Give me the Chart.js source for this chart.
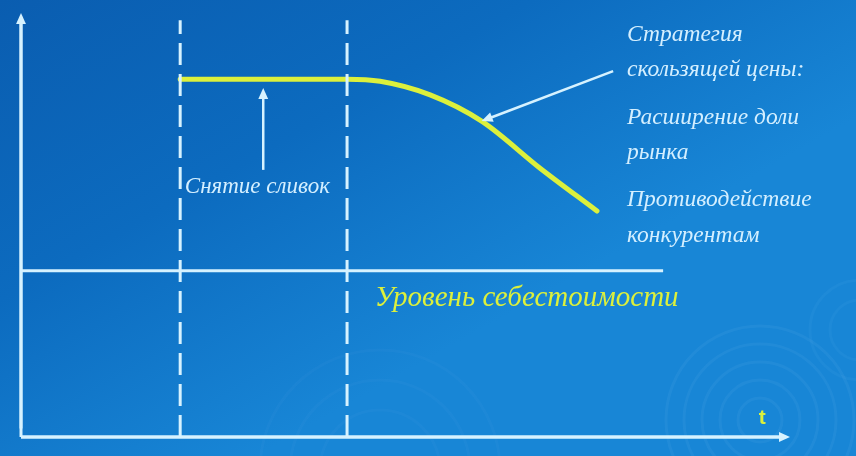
<!DOCTYPE html>
<html>
<head>
<meta charset="utf-8">
<script src="https://cdn.jsdelivr.net/npm/chart.js@4.4.1/dist/chart.umd.min.js"></script>
<style>
html,body{margin:0;padding:0;background:#0b63b4;overflow:hidden;}
#wrap{width:856px;height:456px;}
</style>
</head>
<body>
<div id="wrap"><canvas id="c" width="856" height="456"></canvas></div>
<script>
// ---- data (t = time, price in relative units) ----
const curveT      = [20.7, 30.0, 42.4, 46.7, 53.2, 59.9, 67.5, 74.9];
const curvePrice  = [84.4, 84.4, 84.4, 83.9, 80.7, 74.5, 63.4, 53.3];
const costLevel   = 39.2;
const costEndT    = 83.5;
const phaseBounds = [20.7, 42.4];
const phaseTop    = 98.3;
const axisMaxT    = 100;
const axisMaxP    = 100;

const skimLabel     = 'Снятие сливок';
const strategyLines = ['Стратегия', 'скользящей цены:', 'Расширение доли', 'рынка', 'Противодействие', 'конкурентам'];
const costLabel     = 'Уровень себестоимости';
const timeLabel     = 't';

// ---- annotation anchors in data units ----
const skimPos      = [21.3, 59.0];
const skimArrow    = [[31.5, 63.0], [31.5, 82.3]];
const strategyArrow= [[77.0, 86.3], [59.9, 74.5]];
const strategyT    = 78.8;
const strategyP    = [94.8, 86.6, 75.2, 67.0, 55.9, 47.4];
const costLabelPos = [46.0, 32.8];
const timeLabelPos = [96.4, 4.5];

const AX = '#d6f2ff';
const TXT = '#d4efff';
const YEL = '#dcf03c';

const pts = (xs, ys) => xs.map((x, i) => ({x, y: ys[i]}));

const bgPlugin = {
  id: 'bg',
  beforeDraw(chart) {
    const {ctx, width, height} = chart;
    ctx.save();
    const g = ctx.createLinearGradient(0, 0, width * 0.3, height);
    g.addColorStop(0, '#0a5db0');
    g.addColorStop(0.5, '#0c6bbf');
    g.addColorStop(1, '#1886d6');
    ctx.fillStyle = g;
    ctx.fillRect(0, 0, width, height);
    // faint ripples
    const rip = (cx, cy, rs, a) => {
      rs.forEach(r => {
        ctx.beginPath();
        ctx.arc(cx, cy, r, 0, Math.PI * 2);
        ctx.strokeStyle = 'rgba(150,210,255,' + a + ')';
        ctx.lineWidth = 3;
        ctx.stroke();
      });
    };
    rip(760, 420, [22, 40, 58, 76, 94], 0.07);
    rip(380, 470, [60, 90, 120], 0.04);
    rip(860, 330, [30, 50], 0.05);
    ctx.restore();
  }
};

function arrow(ctx, x1, y1, x2, y2, color, w, head) {
  const a = Math.atan2(y2 - y1, x2 - x1);
  ctx.save();
  ctx.strokeStyle = color; ctx.fillStyle = color; ctx.lineWidth = w;
  ctx.beginPath();
  ctx.moveTo(x1, y1);
  ctx.lineTo(x2 - Math.cos(a) * head * 0.8, y2 - Math.sin(a) * head * 0.8);
  ctx.stroke();
  ctx.beginPath();
  ctx.moveTo(x2, y2);
  ctx.lineTo(x2 - head * Math.cos(a) + head * 0.45 * Math.sin(a), y2 - head * Math.sin(a) - head * 0.45 * Math.cos(a));
  ctx.lineTo(x2 - head * Math.cos(a) - head * 0.45 * Math.sin(a), y2 - head * Math.sin(a) + head * 0.45 * Math.cos(a));
  ctx.closePath();
  ctx.fill();
  ctx.restore();
}

const annPlugin = {
  id: 'ann',
  afterDatasetsDraw(chart) {
    const {ctx, scales: {x, y}} = chart;
    const px = v => x.getPixelForValue(v), py = v => y.getPixelForValue(v);
    ctx.save();
    // axis arrowheads
    arrow(ctx, px(0), py(2), px(0), py(axisMaxP), AX, 3, 11);
    arrow(ctx, px(0), py(0), px(axisMaxT), py(0), AX, 3, 11);
    // annotation arrows
    arrow(ctx, px(skimArrow[0][0]), py(skimArrow[0][1]), px(skimArrow[1][0]), py(skimArrow[1][1]), AX, 2.5, 11);
    arrow(ctx, px(strategyArrow[0][0]), py(strategyArrow[0][1]), px(strategyArrow[1][0]), py(strategyArrow[1][1]), AX, 2.5, 11);

    ctx.textBaseline = 'middle';
    ctx.textAlign = 'left';
    ctx.fillStyle = TXT;
    ctx.font = 'italic 23px "Liberation Serif", serif';
    ctx.fillText(skimLabel, px(skimPos[0]), py(skimPos[1]));

    ctx.font = 'italic 23.5px "Liberation Serif", serif';
    strategyLines.forEach((s, i) => ctx.fillText(s, px(strategyT), py(strategyP[i])));

    ctx.fillStyle = YEL;
    ctx.font = 'italic 29px "Liberation Serif", serif';
    ctx.fillText(costLabel, px(costLabelPos[0]), py(costLabelPos[1]));

    ctx.textAlign = 'center';
    ctx.font = 'bold 21px "Liberation Sans", Arial, sans-serif';
    ctx.fillText(timeLabel, px(timeLabelPos[0]), py(timeLabelPos[1]));
    ctx.restore();
  }
};

new Chart(document.getElementById('c'), {
  type: 'line',
  data: {
    datasets: [
      { label: 'x-axis', data: [{x: 0, y: 0}, {x: axisMaxT - 1, y: 0}], borderColor: AX, borderWidth: 3, pointRadius: 0, clip: false },
      { label: 'y-axis', data: [{x: 0, y: 0}, {x: 0, y: axisMaxP - 1}], borderColor: AX, borderWidth: 3, pointRadius: 0, clip: false },
      { label: 'phase1', data: [{x: phaseBounds[0], y: 0}, {x: phaseBounds[0], y: phaseTop}], borderColor: AX, borderWidth: 3, borderDash: [22, 9], pointRadius: 0, clip: false },
      { label: 'phase2', data: [{x: phaseBounds[1], y: 0}, {x: phaseBounds[1], y: phaseTop}], borderColor: AX, borderWidth: 3, borderDash: [22, 9], pointRadius: 0, clip: false },
      { label: 'cost', data: [{x: 0, y: costLevel}, {x: costEndT, y: costLevel}], borderColor: AX, borderWidth: 3, pointRadius: 0, clip: false },
      { label: 'price', data: pts(curveT, curvePrice), borderColor: YEL, borderWidth: 5, pointRadius: 0, cubicInterpolationMode: 'monotone', clip: false, borderCapStyle: 'round' }
    ]
  },
  options: {
    responsive: false,
    animation: false,
    devicePixelRatio: 1,
    layout: { padding: { left: 21, right: 66, top: 13, bottom: 19 } },
    plugins: { legend: { display: false }, tooltip: { enabled: false } },
    scales: {
      x: { type: 'linear', min: 0, max: axisMaxT, display: false },
      y: { type: 'linear', min: 0, max: axisMaxP, display: false }
    }
  },
  plugins: [bgPlugin, annPlugin]
});
</script>
</body>
</html>
